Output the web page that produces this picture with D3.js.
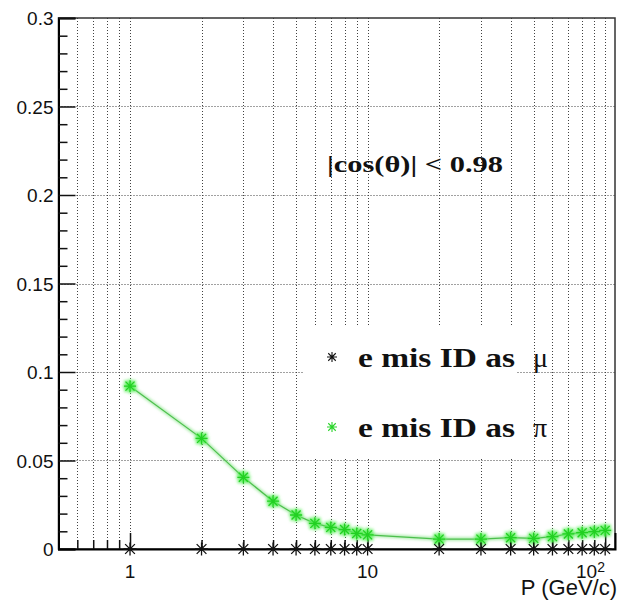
<!DOCTYPE html>
<html>
<head>
<meta charset="utf-8">
<script src="https://cdn.jsdelivr.net/npm/d3@7"></script>
<style>
  html, body { margin: 0; padding: 0; background: #fff; }
  svg { display: block; }
</style>
</head>
<body>
<svg id="chart" width="625" height="606"></svg>
<script>
// Momentum points (GeV/c) and misidentification rates of electrons
const momenta = [1, 2, 3, 4, 5, 6, 7, 8, 9, 10, 20, 30, 40, 50, 60, 70, 80, 90, 100];
const muRate  = [0, 0, 0, 0, 0, 0, 0, 0, 0, 0, 0, 0, 0, 0, 0, 0, 0, 0, 0];
const piRate  = [0.092, 0.0625, 0.0405, 0.027, 0.0192, 0.0145, 0.0122, 0.011, 0.0088, 0.008,
                 0.0056, 0.0056, 0.0064, 0.006, 0.007, 0.0085, 0.0092, 0.0098, 0.0105];

// Axis ticks
const yMajorTicks = [0, 0.05, 0.1, 0.15, 0.2, 0.25, 0.3];
const yMajorLabels = ["0", "0.05", "0.1", "0.15", "0.2", "0.25", "0.3"];
const yMinorTicks = [0.01, 0.02, 0.03, 0.04, 0.06, 0.07, 0.08, 0.09, 0.11, 0.12, 0.13, 0.14,
                     0.16, 0.17, 0.18, 0.19, 0.21, 0.22, 0.23, 0.24, 0.26, 0.27, 0.28, 0.29];
const xMajorTicks = [1, 10, 100];
const xMajorLabels = [{base: "1", exp: ""}, {base: "10", exp: ""}, {base: "10", exp: "2"}];
const xMinorTicks = [0.6, 0.7, 0.8, 0.9, 2, 3, 4, 5, 6, 7, 8, 9, 20, 30, 40, 50, 60, 70, 80, 90];

const cutLabel = "|cos(\u03B8)| < 0.98";
const legendEntries = [
  {text: "e mis ID as", symbol: "\u03BC", color: "#111"},
  {text: "e mis ID as", symbol: "\u03C0", color: "#2ad42a"}
];
const xTitle = "P (GeV/c)";

const svg = d3.select("#chart");
const L = 58.5, R = 615, T = 18, B = 549;

const x = d3.scaleLog().domain([0.5, 110]).range([L, R]);
const y = d3.scaleLinear().domain([0, 0.3]).range([B, T]);

const defs = svg.append("defs");
defs.append("filter").attr("id", "soft")
  .attr("x", "-50%").attr("y", "-50%").attr("width", "200%").attr("height", "200%")
  .append("feGaussianBlur").attr("stdDeviation", 1.6);

// Grid: dotted lines at every x tick and every major y tick
const grid = svg.append("g").attr("stroke", "#222").attr("stroke-width", 1)
  .attr("stroke-dasharray", "1,2").attr("opacity", 0.85);
grid.selectAll("line.gx").data(xMajorTicks.concat(xMinorTicks)).join("line")
  .attr("class", "gx")
  .attr("x1", d => Math.round(x(d)) + 0.5).attr("x2", d => Math.round(x(d)) + 0.5)
  .attr("y1", T).attr("y2", B);
grid.selectAll("line.gy").data(yMajorTicks.filter(d => d > 0 && d < 0.3)).join("line")
  .attr("class", "gy")
  .attr("x1", L).attr("x2", R)
  .attr("y1", d => Math.round(y(d)) + 0.5).attr("y2", d => Math.round(y(d)) + 0.5);

// Legend background
svg.append("rect").attr("x", 304).attr("y", 325).attr("width", 212).attr("height", 132)
  .attr("fill", "#fff");

// Frame
svg.append("rect").attr("x", L).attr("y", T).attr("width", R - L).attr("height", B - T)
  .attr("fill", "none").attr("stroke", "#333").attr("stroke-width", 1.5);

// Y axis
const yAxis = svg.append("g").attr("transform", `translate(${L},0)`)
  .call(d3.axisLeft(y).tickValues(yMajorTicks).tickSize(-17).tickPadding(5)
        .tickFormat((d, i) => yMajorLabels[i]));
svg.append("g").attr("transform", `translate(${L},0)`)
  .call(d3.axisLeft(y).tickValues(yMinorTicks).tickSize(-9).tickFormat(""))
  .select(".domain").remove();
yAxis.select(".domain").attr("stroke-width", 2);
yAxis.selectAll("text").attr("font-family", "Liberation Sans, Arial, sans-serif")
  .attr("font-size", 19).attr("fill", "#111").attr("dy", "0.36em");

// X axis
const xAxis = svg.append("g").attr("transform", `translate(0,${B})`)
  .call(d3.axisBottom(x).tickValues(xMajorTicks).tickSize(-16).tickFormat(""));
svg.append("g").attr("transform", `translate(0,${B})`)
  .call(d3.axisBottom(x).tickValues(xMinorTicks).tickSize(-9).tickFormat(""))
  .select(".domain").remove();
xAxis.select(".domain").attr("stroke-width", 2);
svg.selectAll(".tick line").attr("stroke", "#111").attr("stroke-width", 1.5);

const xLab = svg.append("g").attr("font-family", "Liberation Sans, Arial, sans-serif")
  .attr("fill", "#111");
xMajorLabels.forEach((lab, i) => {
  const t = xLab.append("text").attr("font-size", 19);
  if (lab.exp) {
    t.attr("x", x(xMajorTicks[i]) - 8).attr("y", 578).attr("text-anchor", "end").text(lab.base);
    xLab.append("text").attr("font-size", 14).attr("x", x(xMajorTicks[i]) - 8).attr("y", 572)
      .text(lab.exp);
  } else {
    t.attr("x", x(xMajorTicks[i])).attr("y", 578).attr("text-anchor", "middle").text(lab.base);
  }
});
svg.append("text").attr("x", 617).attr("y", 595).attr("text-anchor", "end")
  .attr("font-family", "Liberation Sans, Arial, sans-serif").attr("font-size", 22)
  .attr("fill", "#111").text(xTitle);

// Asterisk marker (vertical, horizontal and two diagonal strokes)
function star(r) {
  const d = r * 0.75;
  return `M0,${-r}V${r}M${-r},0H${r}M${-d},${-d}L${d},${d}M${-d},${d}L${d},${-d}`;
}

// Pion misID series: connecting line and markers
const piPts = momenta.map((p, i) => [p, piRate[i]]);
const line = d3.line().x(d => x(d[0])).y(d => y(d[1]));
svg.append("path").datum(piPts).attr("d", line).attr("fill", "none")
  .attr("stroke", "#9be89b").attr("stroke-width", 3).attr("filter", "url(#soft)");
svg.append("path").datum(piPts).attr("d", line).attr("fill", "none")
  .attr("stroke", "#4cbf4c").attr("stroke-width", 1.2);
const piG = svg.append("g");
piG.selectAll("path.halo").data(piPts).join("path").attr("class", "halo")
  .attr("transform", d => `translate(${x(d[0])},${y(d[1])})`)
  .attr("d", star(7)).attr("fill", "none").attr("stroke", "#5ff05f").attr("stroke-width", 3)
  .attr("filter", "url(#soft)");
piG.selectAll("path.mk").data(piPts).join("path").attr("class", "mk")
  .attr("transform", d => `translate(${x(d[0])},${y(d[1])})`)
  .attr("d", star(6)).attr("fill", "none").attr("stroke", "#22d022").attr("stroke-width", 1.3);

// Muon misID series markers
const muPts = momenta.map((p, i) => [p, muRate[i]]);
svg.append("g").selectAll("path").data(muPts).join("path")
  .attr("transform", d => `translate(${x(d[0])},${y(d[1])})`)
  .attr("d", star(6.5)).attr("fill", "none").attr("stroke", "#111").attr("stroke-width", 1.3);

// Cut annotation
svg.append("text").attr("x", 327).attr("y", 172)
  .attr("font-family", "Liberation Serif, Times New Roman, serif").attr("font-weight", "bold")
  .attr("font-size", 24).attr("fill", "#111")
  .attr("textLength", 176).attr("lengthAdjust", "spacingAndGlyphs").text(cutLabel);

// Legend
const rowY = [367, 437];
legendEntries.forEach((e, i) => {
  svg.append("path").attr("transform", `translate(332,${rowY[i] - 10})`)
    .attr("d", star(5)).attr("fill", "none").attr("stroke", e.color).attr("stroke-width", 1.1);
  svg.append("text").attr("x", 358).attr("y", rowY[i])
    .attr("font-family", "Liberation Serif, Times New Roman, serif").attr("font-weight", "bold")
    .attr("font-size", 28).attr("fill", "#111")
    .attr("textLength", 157).attr("lengthAdjust", "spacingAndGlyphs").text(e.text);
  svg.append("text").attr("x", 533).attr("y", rowY[i])
    .attr("font-family", "Liberation Serif, Times New Roman, serif")
    .attr("font-size", 28).attr("fill", "#111").text(e.symbol);
});
</script>
</body>
</html>
